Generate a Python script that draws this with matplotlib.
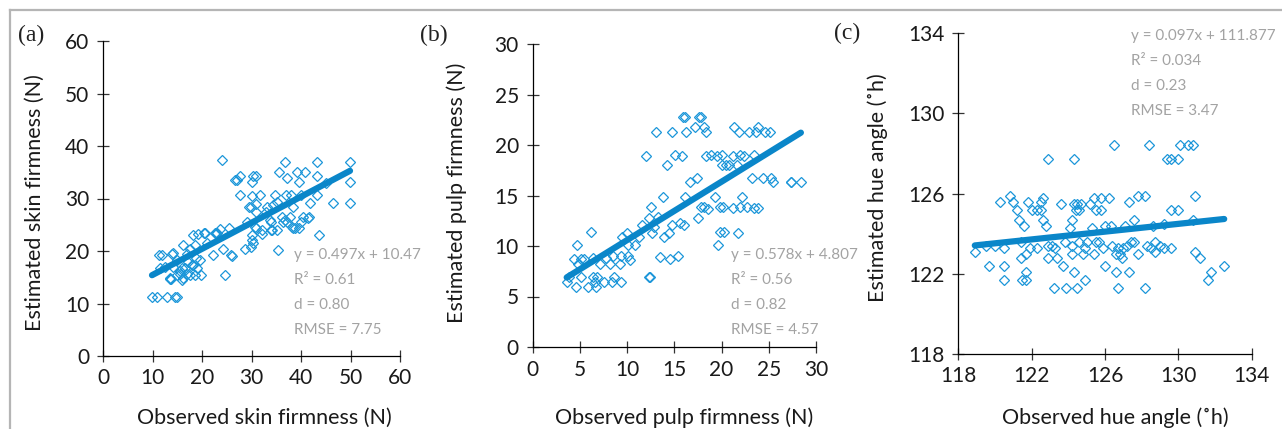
import matplotlib
matplotlib.use("Agg")
import matplotlib.pyplot as plt
from matplotlib.lines import Line2D

plt.rcParams['font.family'] = ['Lato', 'DejaVu Sans']

# ---- data ----
skin_obs = [9.9, 10.9, 12.9, 14.6, 14.9, 11.3, 11.9, 14.0, 11.5, 13.5,
            13.8, 15.5, 16.0, 16.2, 16.5, 16.9, 17.2, 17.5, 17.9, 18.5,
            18.2, 18.7, 18.9, 19.2, 19.8, 20.5, 22.3, 22.6, 22.8, 23.6,
            24.1, 24.3, 24.6, 25.4, 25.8, 26.7, 27.1, 27.6, 27.6, 28.7,
            29.0, 29.5, 29.8, 30.0, 30.1, 30.3, 30.9, 30.1, 29.8, 30.3,
            30.9, 30.9, 31.7, 32.1, 33.2, 33.9, 33.9, 34.7, 35.1, 35.4,
            35.5, 36.1, 36.4, 36.7, 36.9, 37.1, 37.1, 37.8, 38.0, 38.4,
            38.8, 39.1, 39.6, 39.6, 40.1, 40.1, 40.8, 40.5, 41.8, 41.7,
            43.2, 43.2, 43.2, 43.6, 46.4, 49.9, 49.9, 49.9, 34.4, 36.7,
            14.2, 18.6, 14.9, 15.9, 18.2, 19.6, 13.5, 14.9, 16.2, 17.6,
            15.6, 20.6, 26.0, 23.0, 14.2, 31.0, 32.9, 35.1, 38.4, 33.7,
            30.7, 32.1, 34.1, 30.0, 38.1, 41.5, 45.0, 21.0, 12.5, 17.0]
skin_est = [11.3, 11.3, 11.3, 11.3, 11.3, 19.2, 19.2, 19.4, 16.7, 14.6,
            14.6, 15.7, 14.5, 21.1, 16.7, 15.7, 18.0, 20.3, 17.3, 15.4,
            23.0, 18.6, 16.7, 23.2, 15.4, 23.4, 19.2, 23.4, 23.4, 24.1,
            37.3, 20.3, 15.4, 24.3, 19.2, 33.5, 33.5, 34.2, 30.6, 20.3,
            25.6, 28.4, 28.4, 30.4, 33.2, 34.2, 34.2, 23.0, 20.8, 21.5,
            29.0, 24.3, 30.7, 23.2, 28.4, 25.6, 24.0, 30.6, 24.0, 20.2,
            35.1, 26.5, 25.6, 36.9, 30.7, 34.0, 25.6, 26.5, 30.7, 24.3,
            24.3, 35.1, 33.2, 24.3, 25.6, 30.7, 35.1, 26.5, 29.2, 26.5,
            36.9, 34.2, 30.7, 23.0, 29.2, 36.9, 33.2, 29.2, 28.8, 25.9,
            19.6, 21.1, 18.3, 16.7, 17.3, 18.3, 14.8, 15.4, 14.8, 15.4,
            16.1, 23.4, 19.0, 23.4, 17.0, 27.5, 27.5, 29.4, 28.4, 25.9,
            24.6, 24.0, 24.0, 22.1, 24.6, 26.2, 33.0, 21.5, 17.0, 19.5]

pulp_obs = [3.6, 3.8, 4.6, 4.7, 4.4, 4.8, 5.1, 5.4, 5.1, 5.9,
            6.2, 6.4, 6.4, 6.6, 6.7, 6.8, 7.1, 7.5, 7.8, 8.2,
            8.4, 8.6, 8.5, 9.2, 9.3, 9.4, 9.5, 10.0, 10.1, 10.3,
            10.1, 10.8, 11.3, 11.6, 12.0, 12.3, 12.4, 12.3, 12.5, 12.6,
            13.1, 13.3, 13.5, 13.8, 13.9, 14.2, 14.4, 14.5, 14.7, 14.8,
            15.1, 15.4, 15.8, 15.9, 16.1, 16.0, 16.1, 16.2, 16.7, 17.2,
            17.4, 17.5, 17.6, 17.8, 17.8, 18.1, 18.1, 18.4, 18.4, 18.6,
            18.9, 19.3, 19.5, 19.6, 19.8, 19.8, 20.0, 20.0, 20.2, 20.3,
            20.5, 20.8, 21.2, 21.3, 21.2, 21.6, 21.8, 21.7, 22.0, 22.0,
            22.2, 22.4, 22.7, 22.9, 23.2, 23.4, 23.4, 23.6, 23.9, 23.9,
            24.4, 24.6, 25.1, 25.2, 25.4, 27.3, 27.4, 28.4, 15.6, 12.8]
pulp_est = [6.4, 6.9, 5.9, 10.1, 8.7, 8.2, 8.7, 8.7, 6.9, 5.9,
            11.4, 6.9, 8.8, 6.4, 5.9, 6.9, 8.2, 6.4, 8.8, 8.2,
            6.4, 6.9, 9.0, 8.2, 6.4, 9.0, 10.9, 11.3, 9.0, 8.6,
            10.1, 10.1, 10.9, 12.1, 18.9, 6.9, 6.9, 12.8, 13.9, 11.3,
            21.3, 12.9, 8.9, 14.9, 10.9, 18.0, 11.3, 8.7, 12.1, 21.3,
            19.0, 9.0, 18.9, 22.8, 22.8, 12.1, 14.9, 21.3, 16.3, 21.8,
            16.7, 12.8, 22.8, 22.8, 13.9, 21.8, 13.9, 21.3, 18.9, 13.7,
            19.0, 14.9, 18.9, 10.1, 13.9, 11.4, 19.0, 18.0, 13.9, 11.4,
            18.0, 18.0, 13.8, 21.8, 18.9, 18.0, 21.3, 11.3, 13.9, 19.0,
            14.9, 18.9, 13.9, 21.3, 16.7, 13.8, 19.0, 21.3, 13.8, 21.8,
            16.7, 21.3, 21.3, 16.7, 16.3, 16.3, 16.3, 16.3, 12.3, 11.9]

hue_obs = [118.9, 119.5, 119.7, 120.0, 120.3, 120.5, 120.5, 120.5, 120.8, 121.0,
           121.2, 121.3, 121.4, 121.4, 121.5, 121.7, 121.6, 121.7, 121.7, 121.8,
           121.9, 122.0, 122.3, 122.3, 122.5, 122.5, 122.6, 122.6, 122.8, 122.9,
           122.9, 122.9, 123.1, 123.2, 123.3, 123.4, 123.6, 123.7, 123.8, 123.9,
           124.1, 124.2, 124.2, 124.2, 124.3, 124.3, 124.3, 124.4, 124.5, 124.5,
           124.6, 124.7, 124.6, 124.8, 124.9, 124.9, 125.0, 125.2, 125.3, 125.4,
           125.4, 125.5, 125.5, 125.7, 125.8, 125.8, 125.9, 126.0, 126.0, 126.2,
           126.3, 126.4, 126.5, 126.6, 126.6, 126.7, 126.7, 126.8, 126.9, 127.0,
           127.1, 127.2, 127.3, 127.3, 127.4, 127.6, 127.6, 127.8, 127.8, 128.2,
           128.2, 128.3, 128.4, 128.5, 128.6, 128.7, 128.7, 129.0, 129.2, 129.2,
           129.4, 129.6, 129.6, 129.6, 130.0, 130.0, 130.1, 130.5, 130.8, 130.9,
           130.8, 130.9, 131.2, 131.6, 131.8, 132.5]
hue_est = [123.1, 123.4, 122.4, 123.4, 125.6, 123.3, 122.4, 121.7, 125.9, 125.6,
           125.2, 124.7, 122.8, 123.6, 121.7, 121.7, 124.4, 123.0, 122.1, 125.6,
           123.3, 125.2, 123.3, 125.2, 125.2, 125.6, 125.8, 124.7, 124.4, 122.8,
           127.7, 123.4, 123.4, 121.3, 123.3, 122.8, 125.5, 122.4, 123.6, 121.3,
           124.3, 123.4, 123.0, 124.7, 127.7, 125.5, 122.1, 125.2, 121.3, 125.5,
           125.2, 125.5, 123.6, 123.0, 123.3, 121.7, 123.6, 125.5, 124.3, 125.8,
           123.0, 123.6, 125.2, 123.6, 125.8, 125.2, 123.3, 122.4, 124.4, 125.8,
           124.4, 123.4, 128.4, 122.1, 123.0, 121.3, 123.3, 123.0, 122.8, 123.3,
           124.4, 123.4, 125.6, 122.1, 123.6, 124.7, 123.6, 125.9, 123.0, 125.9,
           121.3, 123.4, 128.4, 123.3, 124.4, 123.6, 123.1, 123.4, 123.3, 124.5,
           127.7, 125.2, 123.3, 127.7, 125.2, 127.7, 128.4, 128.4, 128.4, 125.9,
           124.7, 123.1, 122.8, 121.7, 122.1, 122.4]

# regression results printed on the chart
fits = [(0.497, 10.47, ["y = 0.497x + 10.47", "R² = 0.61", "d = 0.80", "RMSE = 7.75"]),
        (0.578, 4.807, ["y = 0.578x + 4.807", "R² = 0.56", "d = 0.82", "RMSE = 4.57"]),
        (0.097, 111.877, ["y = 0.097x + 111.877", "R² = 0.034", "d = 0.23", "RMSE = 3.47"])]

panels = [
    ("(a)", skin_obs, skin_est, [0, 10, 20, 30, 40, 50, 60], [0, 10, 20, 30, 40, 50, 60],
     "Observed skin firmness (N)", "Estimated skin firmness (N)"),
    ("(b)", pulp_obs, pulp_est, [0, 5, 10, 15, 20, 25, 30], [0, 5, 10, 15, 20, 25, 30],
     "Observed pulp firmness (N)", "Estimated pulp firmness (N)"),
    ("(c)", hue_obs, hue_est, [118, 122, 126, 130, 134], [118, 122, 126, 130, 134],
     "Observed hue angle (˚h)", "Estimated hue angle (˚h)"),
]

W, H = 1282, 429
# axes boxes in pixels: left, right, top, bottom
boxes = [(103, 400, 41, 356), (532.7, 816, 44, 347), (958.3, 1251.7, 33, 354)]
text_pos = [(38.6, 19.2), (20.97, 9.1), (127.4, 133.85)]
xlab_pos = [(264, 418), (684, 418), (1115, 418)]
ylab_pos = [(35, 203), (457, 193), (878, 188)]
tag_pos = [(31, 35), (434, 35), (847, 33)]

fig = plt.figure(figsize=(W / 100, H / 100), dpi=100)

# grey frame around the figure
fig.add_artist(Line2D([10 / W, 10 / W], [0, 1 - 10 / H], color='#b5b5b5', lw=1.6,
                      transform=fig.transFigure))
fig.add_artist(Line2D([10 / W, 1], [1 - 10 / H, 1 - 10 / H], color='#b5b5b5', lw=1.6,
                      transform=fig.transFigure))

for i, (tag, xo, ye, xt, yt, xl, yl) in enumerate(panels):
    l, r, t, b = boxes[i]
    ax = fig.add_axes([l / W, 1 - b / H, (r - l) / W, (b - t) / H])
    ax.plot(xo, ye, linestyle='none', marker='D', ms=4.6, mfc='none',
            mec='#1b96d9', mew=0.9, zorder=3)
    slope, icpt, lines = fits[i]
    xs = [min(xo), max(xo)]
    ax.plot(xs, [slope * v + icpt for v in xs], color='#0a86c9', lw=4.5,
            solid_capstyle='round', zorder=4)
    ax.set_xlim(xt[0], xt[-1])
    ax.set_ylim(yt[0], yt[-1])
    ax.set_xticks(xt)
    ax.set_yticks(yt)
    for s in ['top', 'right']:
        ax.spines[s].set_visible(False)
    for s in ['left', 'bottom']:
        ax.spines[s].set_linewidth(0.9)
    ax.tick_params(direction='inout', length=8, width=0.9, labelsize=15,
                   color='#333333', labelcolor='#1a1a1a')
    ax.tick_params(axis='y', pad=6)
    ax.tick_params(axis='x', pad=5)
    ax.patch.set_alpha(0)

    ax.set_xlabel(xl, fontsize=15.5, color='#1a1a1a', va='center')
    ax.set_ylabel(yl, fontsize=15.5, color='#1a1a1a', va='center')
    ax.xaxis.set_label_coords(xlab_pos[i][0] / W, 1 - xlab_pos[i][1] / H,
                              transform=fig.transFigure)
    ax.yaxis.set_label_coords(ylab_pos[i][0] / W, 1 - ylab_pos[i][1] / H,
                              transform=fig.transFigure)

    tx, ty = text_pos[i]
    for k, line in enumerate(lines):
        ax.annotate(line, (tx, ty), xytext=(0, -18 * k), textcoords='offset points',
                    fontsize=11, color='#a3a3a3', ha='left', va='center', zorder=5)

    fig.text(tag_pos[i][0] / W, 1 - tag_pos[i][1] / H, tag, fontsize=17,
             family='Liberation Serif', color='#222222', ha='center', va='center')

fig.savefig("out.png", dpi=100)
